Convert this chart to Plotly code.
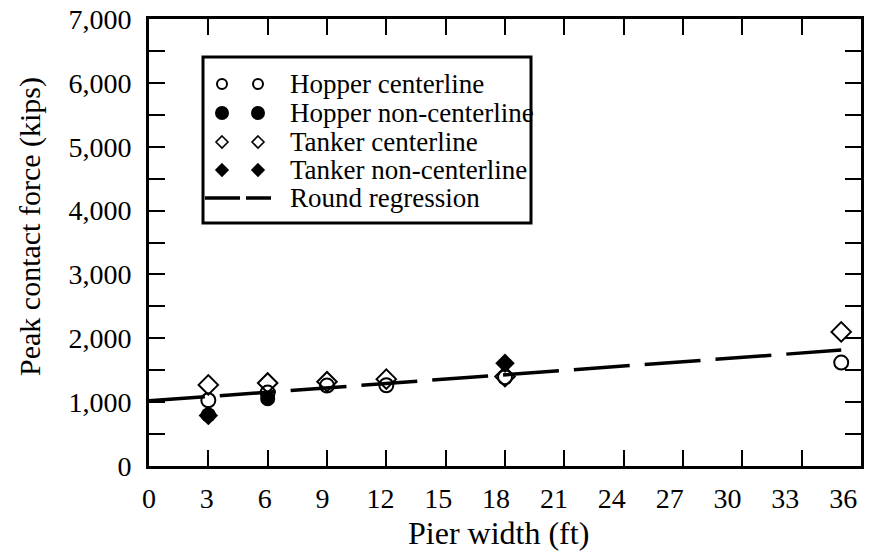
import plotly.graph_objects as go

# ---- Data ----
hopper_c_x = [3, 6, 9, 12, 18, 35]
hopper_c_y = [1030, 1150, 1260, 1265, 1390, 1620]
hopper_nc_x = [3, 6]
hopper_nc_y = [800, 1055]
tanker_c_x = [3, 6, 9, 12, 18, 35]
tanker_c_y = [1270, 1300, 1320, 1360, 1400, 2100]
tanker_nc_x = [3, 18]
tanker_nc_y = [790, 1610]
reg_x = [0, 35]
reg_y = [1020, 1815]

x_ticks = [0, 3, 6, 9, 12, 15, 18, 21, 24, 27, 30, 33, 36]
x_tick_labels = [str(v) for v in x_ticks]
y_ticks = [0, 1000, 2000, 3000, 4000, 5000, 6000, 7000]
y_tick_labels = ["0", "1,000", "2,000", "3,000", "4,000", "5,000", "6,000", "7,000"]

legend_names = ["Hopper centerline", "Hopper non-centerline", "Tanker centerline",
                "Tanker non-centerline", "Round regression"]
x_title = "Pier width (ft)"
y_title = "Peak contact force (kips)"

FONT = "Liberation Serif"
W, H = 875, 554
ML, MR, MT, MB = 149, 14, 19, 88
PW, PH = W - ML - MR, H - MT - MB
X_RANGE = [0, 36]
Y_RANGE = [0, 7000]

# the original software spaces its x labels slightly tighter than its ticks
LABEL_SCALE = 0.975
x_label_pos = [t * LABEL_SCALE for t in x_ticks]


def px(xp):
    return (xp - ML) / PW


def py(yp):
    return (H - MB - yp) / PH


fig = go.Figure()
fig.add_trace(go.Scatter(
    x=hopper_c_x, y=hopper_c_y, mode="markers", name=legend_names[0], showlegend=False,
    marker=dict(symbol="circle-open", size=14, color="black", line=dict(width=2, color="black"))))
fig.add_trace(go.Scatter(
    x=hopper_nc_x, y=hopper_nc_y, mode="markers", name=legend_names[1], showlegend=False,
    marker=dict(symbol="circle", size=15, color="black")))
fig.add_trace(go.Scatter(
    x=tanker_c_x, y=tanker_c_y, mode="markers", name=legend_names[2], showlegend=False,
    marker=dict(symbol="diamond-open", size=15, color="black", line=dict(width=2, color="black"))))
fig.add_trace(go.Scatter(
    x=tanker_nc_x, y=tanker_nc_y, mode="markers", name=legend_names[3], showlegend=False,
    marker=dict(symbol="diamond", size=15, color="black")))
fig.add_trace(go.Scatter(
    x=reg_x, y=reg_y, mode="lines", name=legend_names[4], showlegend=False,
    xaxis="x2", yaxis="y",
    line=dict(color="black", width=3.5, dash="56px,15px")))

# ---- Custom legend (box, key symbols, labels) ----
shapes = []
annotations = []
box = dict(x0=203, x1=531, y0=57, y1=223)
shapes.append(dict(type="rect", xref="paper", yref="paper",
                   x0=px(box["x0"]), x1=px(box["x1"]), y0=py(box["y1"]), y1=py(box["y0"]),
                   line=dict(color="black", width=3), fillcolor="white", layer="above"))
row_y = [84, 113, 142, 170, 198]
key_x = [222, 258]
text_x = 288


def circle(xc, yc, r, filled):
    return dict(type="circle", xref="paper", yref="paper", xsizemode="pixel", ysizemode="pixel",
                xanchor=px(xc), yanchor=py(yc), x0=-r, x1=r, y0=-r, y1=r,
                line=dict(color="black", width=2), fillcolor="black" if filled else "white",
                layer="above")


def diamond(xc, yc, r, filled):
    path = f"M0,{r} L{r},0 L0,{-r} L{-r},0 Z"
    return dict(type="path", xref="paper", yref="paper", xsizemode="pixel", ysizemode="pixel",
                xanchor=px(xc), yanchor=py(yc), path=path,
                line=dict(color="black", width=1.6), fillcolor="black" if filled else "white",
                layer="above")


for kx in key_x:
    shapes.append(circle(kx, row_y[0], 5, False))
    shapes.append(circle(kx, row_y[1], 6, True))
    shapes.append(diamond(kx, row_y[2], 6, False))
    shapes.append(diamond(kx, row_y[3], 6, True))
for (a, b) in [(205, 240), (246, 271)]:
    shapes.append(dict(type="line", xref="paper", yref="paper",
                       x0=px(a), x1=px(b), y0=py(row_y[4]), y1=py(row_y[4]),
                       line=dict(color="black", width=3.5), layer="above"))

for name, ry in zip(legend_names, row_y):
    annotations.append(dict(text=name, xref="paper", yref="paper", x=px(text_x), y=py(ry),
                            xanchor="left", yanchor="middle", showarrow=False,
                            font=dict(family=FONT, size=27, color="black")))

# axis titles
annotations.append(dict(text=x_title, xref="paper", yref="paper", x=px(498), y=py(533),
                        xanchor="center", yanchor="middle", showarrow=False,
                        font=dict(family=FONT, size=32, color="black")))
annotations.append(dict(text=y_title, xref="paper", yref="paper", x=px(30), y=py(227),
                        xanchor="center", yanchor="middle", showarrow=False, textangle=-90,
                        font=dict(family=FONT, size=30, color="black")))

fig.update_layout(
    width=W, height=H,
    margin=dict(l=ML, r=MR, t=MT, b=MB, autoexpand=False),
    paper_bgcolor="white", plot_bgcolor="white",
    font=dict(family=FONT, size=28, color="black"),
    showlegend=False,
    shapes=shapes, annotations=annotations,
    # tick marks axis (labels hidden)
    xaxis=dict(
        range=X_RANGE, tickmode="array", tickvals=x_ticks, showticklabels=False,
        ticks="inside", ticklen=16, tickwidth=2, tickcolor="black",
        showline=True, linewidth=3, linecolor="black", mirror="allticks",
        showgrid=False, zeroline=False, automargin=False,
    ),
    # tick label axis (no marks)
    xaxis2=dict(
        range=X_RANGE, overlaying="x", anchor="y", side="bottom",
        tickmode="array", tickvals=x_label_pos, ticktext=x_tick_labels,
        ticks="", showline=False, showgrid=False, zeroline=False,
        ticklabelstandoff=13, automargin=False,
        tickfont=dict(family=FONT, size=28, color="black"),
    ),
    yaxis=dict(
        range=Y_RANGE, tickvals=y_ticks, ticktext=y_tick_labels,
        ticks="inside", ticklen=16, tickwidth=2, tickcolor="black",
        minor=dict(dtick=500, ticks="inside", ticklen=9, tickwidth=2, tickcolor="black", showgrid=False),
        showline=True, linewidth=3, linecolor="black", mirror="allticks",
        showgrid=False, zeroline=False, ticklabelstandoff=9, automargin=False,
        tickfont=dict(family=FONT, size=28, color="black"),
    ),
)

fig.write_html("out.html", config={"displayModeBar": False},
               post_script="document.body.style.margin='0px';")
